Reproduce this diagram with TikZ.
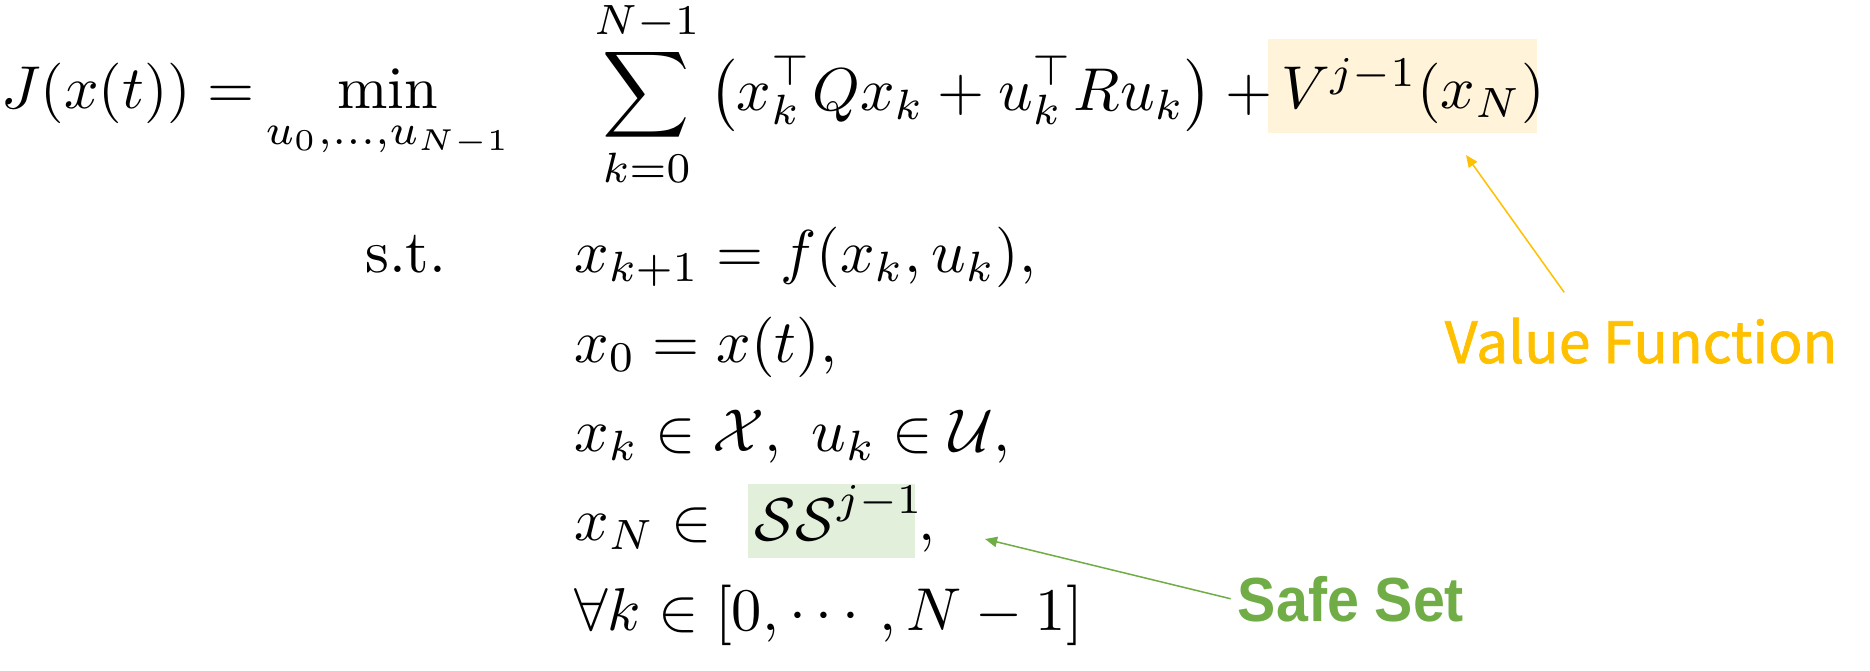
\documentclass[tikz,border=0pt]{standalone}
\usepackage{amsmath,amssymb}
\usepackage{fontspec}
\newfontfamily\safefont[FakeStretch=0.92]{Liberation Sans}
\newfontfamily\valuefont[FakeBold=1.3]{Noto Sans CJK JP}
\usetikzlibrary{positioning,arrows.meta}
\definecolor{vfgold}{HTML}{FFC000}
\definecolor{vffill}{HTML}{FFF4DA}
\definecolor{ssgreen}{HTML}{70AD47}
\definecolor{ssfill}{HTML}{E2EFDA}
\tikzset{
    eq/.style={inner sep=0pt, anchor=base west},
    hlbox/.style={inner sep=0pt, minimum width=#1},
    tagarrow/.style={line width=0.25pt, -{Triangle[length=2pt,width=1.7pt]}},
}
\begin{document}
\begin{tikzpicture}[x=0.1653pt, y=-0.1653pt]
        \useasboundingbox (0,0) rectangle (1870,670);
        \node[hlbox=44.5pt, minimum height=15.5pt, fill=vffill] (vbox) at (1402.5,86) {};
        \node[hlbox=27.6pt, minimum height=12.2pt, fill=ssfill] (ssbox) at (831.5,521) {};

        \node[eq] (cost) at (0,108) {$J(x(t)) =$};
        \node[eq, anchor=base] (mini) at (388,108) {$\displaystyle\min_{u_0,\ldots,u_{N-1}}$};
        \node[eq] (stage) at (593,110) {$\displaystyle\sum_{k=0}^{N-1}\big(x_k^\top Q x_k + u_k^\top R u_k\big) + {}$};
        \node[eq] (vfun) at (1280,108) {$V^{j-1}(x_N)$};
        \node[eq] (st) at (364,272) {s.t.};

        \foreach \n/\yy/\txt in {1/272/{$x_{k+1} = f(x_k, u_k),$}, 2/362/{$x_0 = x(t),$},
                3/451/{$x_k \in \mathcal{X},\ u_k \in \mathcal{U},$}, 5/630/{$\forall k \in [0, \cdots, N-1]$}} {
            \node[eq] (row\n) at (573,\yy) {\txt};
        }
        \node[eq] (row4) at (573,540) {$x_N \in$};
        \node[eq] (sset) at (753,540) {$\mathcal{SS}^{j-1}$};
        \node[eq] (sscomma) at (917,540) {$,$};

        \node[anchor=base, inner sep=4pt, text=vfgold, font=\valuefont\fontsize{9.4}{11}\selectfont] (vlabel) at (1641,363) {Value Function};
        \node[anchor=base, inner sep=1pt, text=ssgreen, font=\safefont\bfseries\fontsize{10.3}{12}\selectfont] (slabel) at (1351,621) {Safe Set};

        \coordinate (vtip) at (1466,155);
        \coordinate (stip) at (985,539);
        \draw[tagarrow, vfgold] ([xshift=-12.7pt]vlabel.north) -- (vtip);
        \draw[tagarrow, ssgreen] (slabel.west) -- (stip);
    \end{tikzpicture}
\end{document}
